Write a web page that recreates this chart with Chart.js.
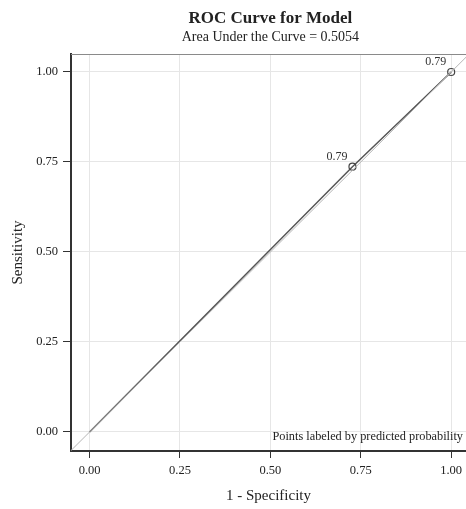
<!DOCTYPE html>
<html>
<head>
<meta charset="utf-8">
<script src="https://cdn.jsdelivr.net/npm/chart.js@4/dist/chart.umd.min.js"></script>
<style>
  html, body { margin: 0; padding: 0; background: #fff; }
  #wrap { width: 466px; height: 509px; }
</style>
</head>
<body>
<div id="wrap"><canvas id="myChart" width="466" height="509"></canvas></div>
<script>
// données
const fpr = [0, 0.727, 1];
const tpr = [0, 0.737, 1];
const pointLabels = ['', '0.79', '0.79'];
const refX = [-0.06, 1.06];
const refY = [-0.06, 1.06];
const xTicks = [0, 0.25, 0.5, 0.75, 1];
const yTicks = [0, 0.25, 0.5, 0.75, 1];
const titleText = 'ROC Curve for Model';
const subtitleText = 'Area Under the Curve = 0.5054';
const noteText = 'Points labeled by predicted probability';

const serif = "'Liberation Serif', 'DejaVu Serif', serif";
const noPad = () => ({ left: 0, top: 0, right: 0, bottom: 0 });

// titre, cadre du haut, étiquettes des points, note
const extras = {
  id: 'extras',
  afterDatasetsDraw(chart) {
    const ctx = chart.ctx;
    const area = chart.chartArea;
    const xs = chart.scales.x, ys = chart.scales.y;
    ctx.save();
    // cadre du haut
    ctx.strokeStyle = '#8a8a8a';
    ctx.lineWidth = 1;
    ctx.beginPath();
    ctx.moveTo(area.left, area.top + 0.5);
    ctx.lineTo(area.right, area.top + 0.5);
    ctx.stroke();

    const cx = xs.getPixelForValue(0.5);
    ctx.fillStyle = '#222';
    ctx.textAlign = 'center';
    ctx.textBaseline = 'middle';
    ctx.font = 'bold 17px ' + serif;
    ctx.fillText(titleText, cx, 19);
    ctx.font = '14px ' + serif;
    ctx.fillText(subtitleText, cx, 37);

    // étiquettes des points
    ctx.font = '12px ' + serif;
    ctx.textAlign = 'right';
    ctx.textBaseline = 'bottom';
    ctx.fillStyle = '#333';
    for (let i = 0; i < fpr.length; i++) {
      if (!pointLabels[i]) continue;
      ctx.fillText(pointLabels[i], xs.getPixelForValue(fpr[i]) - 5, ys.getPixelForValue(tpr[i]) - 4);
    }

    // note en bas à droite
    ctx.font = '12.3px ' + serif;
    ctx.textAlign = 'right';
    ctx.textBaseline = 'middle';
    ctx.fillStyle = '#222';
    ctx.fillText(noteText, area.right - 3, ys.getPixelForValue(-0.012));
    ctx.restore();
  }
};

const ctx = document.getElementById('myChart');
new Chart(ctx, {
  type: 'scatter',
  data: {
    datasets: [
      {
        label: 'Reference',
        data: refX.map((x, i) => ({ x: x, y: refY[i] })),
        showLine: true,
        borderColor: '#b5b5b5',
        borderWidth: 1,
        pointRadius: 0
      },
      {
        label: 'ROC',
        data: fpr.map((x, i) => ({ x: x, y: tpr[i] })),
        showLine: true,
        borderColor: '#555',
        borderWidth: 1.5,
        pointRadius: fpr.map((v, i) => pointLabels[i] ? 3.5 : 0),
        pointBorderColor: '#444',
        pointBorderWidth: 1.2,
        pointBackgroundColor: 'rgba(0,0,0,0)'
      }
    ]
  },
  options: {
    responsive: false,
    animation: false,
    layout: { autoPadding: false, padding: { top: 54, right: 0, left: 0, bottom: 0 } },
    plugins: {
      legend: { display: false },
      tooltip: { enabled: false }
    },
    scales: {
      x: {
        type: 'linear',
        min: -0.0514,
        max: 1.041,
        afterBuildTicks: s => { s.ticks = xTicks.map(v => ({ value: v })); },
        afterFit: s => { s.height = 58; s.paddingLeft = 0; s.paddingRight = 0; s.getPadding = noPad; },
        ticks: {
          callback: v => v.toFixed(2),
          color: '#222',
          font: { family: serif, size: 12.5 },
          padding: 5,
          maxRotation: 0
        },
        grid: { color: '#e6e6e6', tickColor: '#333', tickLength: 7 },
        border: { color: '#333', width: 2 },
        title: {
          display: true,
          text: '1 - Specificity',
          color: '#222',
          font: { family: serif, size: 15 },
          padding: { top: 12 }
        }
      },
      y: {
        type: 'linear',
        min: -0.0528,
        max: 1.05,
        afterBuildTicks: s => { s.ticks = yTicks.map(v => ({ value: v })); },
        afterFit: s => { s.width = 71; s.paddingTop = 0; s.paddingBottom = 0; s.getPadding = noPad; },
        ticks: {
          callback: v => v.toFixed(2),
          color: '#222',
          font: { family: serif, size: 12.5 },
          padding: 5
        },
        grid: { color: '#e6e6e6', tickColor: '#333', tickLength: 8 },
        border: { color: '#333', width: 2 },
        title: {
          display: true,
          text: 'Sensitivity',
          color: '#222',
          font: { family: serif, size: 15 },
          padding: { top: 9, bottom: 0 }
        }
      }
    }
  },
  plugins: [extras]
});
</script>
</body>
</html>
